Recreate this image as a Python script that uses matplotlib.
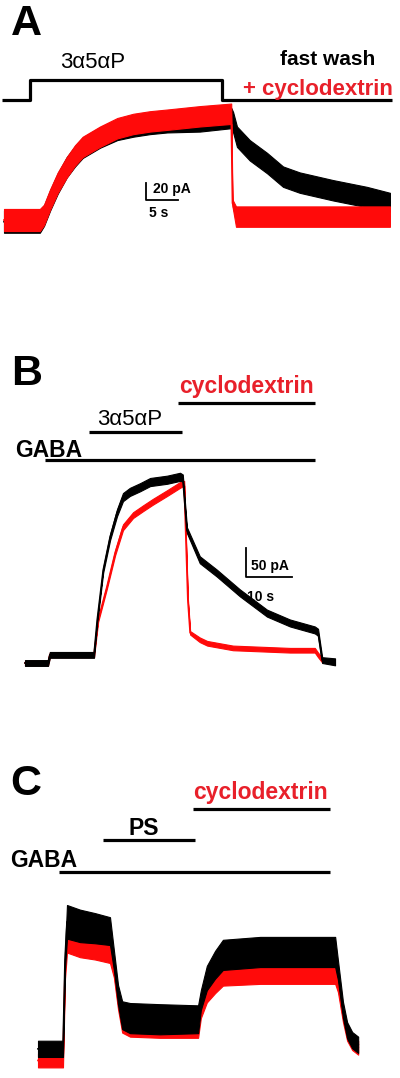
import numpy as np
import matplotlib
matplotlib.use("Agg")
import matplotlib.pyplot as plt

plt.rcParams['font.family'] = ['Liberation Sans', 'DejaVu Sans']

RED = '#e8202a'
TRACE_RED = '#ff0a0a'

# ---------------- Panel A data (time s, current pA) ----------------
a_red_t = [0, 5.6, 6.25, 7.2, 8.4, 9.8, 11.1, 12.3, 15.0, 17.7, 20.2, 22.8, 25.5, 30.6, 35.5, 35.7, 36.25, 46.25, 60.3]
a_red_i = [0, 0, 6, 24, 44, 62, 76, 86, 98, 108, 113, 116, 118, 122, 125, 20, 4, 4, 4]
a_red_n = [13, 13, 12, 12, 12, 12, 12, 12, 12, 12, 12, 12, 12, 12, 12, 4, 12, 12, 12]

a_blk_t = [0, 5.6, 6.25, 7.2, 8.4, 9.8, 11.1, 12.3, 15.0, 17.7, 20.2, 22.8, 25.5, 30.6, 35.5, 35.8, 36.4, 38.4, 41.1, 43.6, 46.2, 51.4, 56.7, 60.3]
a_blk_i = [-2, -2, 5, 23, 43, 62, 75, 85, 97, 106, 110, 113, 115, 117, 120, 115, 98, 82, 67, 51, 44, 35, 27, 21]
a_blk_n = [13, 13, 12, 12, 12, 12, 12, 12, 12, 12, 12, 12, 12, 13, 12, 12, 12, 12, 12, 12, 12, 12, 12, 11]

a_app_t = [-0.3, 4.1, 4.1, 34.1, 34.1, 60.6]      # 3α5αP application (step)
a_app_on = [0, 0, 1, 1, 0, 0]
a_scale = (20, 5)   # pA, s

# ---------------- Panel B data ----------------
b_blk_t = [0, 5.0, 5.4, 15.0, 15.7, 17.0, 18.5, 20.0, 21.3, 22.8, 25.0, 27.2, 30.9, 33.7, 34.3, 35.2, 38.0, 41.7, 46.7, 52.6, 57.6, 63.0, 63.7, 64.6, 67.4]
b_blk_i = [0, 0, 14, 14, 74, 160, 217, 259, 286, 295, 303, 312, 316, 321, 319, 229, 178, 155, 121, 86, 69, 57, 53, 5, 2]
b_blk_n = [5, 5, 5, 5, 4, 4, 5, 6, 7, 7, 7, 7, 7, 7, 6, 5, 6, 6, 6, 6, 6, 6, 6, 5, 6]

b_red_t = [0, 5.0, 5.4, 15.0, 15.9, 17.8, 19.6, 21.3, 23.5, 25.7, 27.8, 30.9, 33.7, 34.6, 35.4, 35.9, 38.0, 39.6, 45.2, 57.6, 63.0, 63.7, 64.6]
b_red_i = [0, 0, 14, 14, 74, 131, 190, 234, 255, 267, 278, 293, 307, 310, 109, 52, 40, 34, 26, 22, 22, 14, 5]
b_red_n = [4, 4, 4, 4, 3, 3, 4, 5, 5, 5, 5, 5, 5, 4, 3, 3, 4, 4, 4, 4, 4, 4, 4]

b_gaba = (4.35, 63.0)
b_steroid = (13.9, 34.1)
b_cd = (33.3, 63.0)
b_scale = (50, 10)

# ---------------- Panel C data ----------------
c_blk_t = [0, 5.43, 5.87, 6.3, 9.13, 12.4, 15.65, 16.5, 17.4, 18.3, 20.0, 26.5, 34.8, 35.4, 36.7, 38.5, 40.2, 48.3, 57.0, 64.6, 65.2, 66.3, 67.2, 68.3, 69.6]
c_blk_i = [2, 2, 155, 221, 214, 210, 205, 155, 95, 60, 55, 53, 53, 86, 124, 147, 164, 169, 169, 169, 138, 69, 34, 17, 9]
c_blk_n = [14, 14, 14, 29, 28, 26, 24, 17, 17, 24, 26, 26, 24, 17, 21, 24, 26, 26, 26, 26, 17, 14, 14, 14, 14]

c_red_t = [0, 5.43, 5.87, 6.3, 9.13, 12.4, 15.65, 16.5, 17.4, 18.3, 20.0, 26.5, 34.8, 35.4, 36.7, 38.5, 40.2, 48.3, 57.0, 64.6, 65.2, 66.3, 67.2, 68.3, 69.6]
c_red_i = [-18, -18, 135, 190, 182, 178, 172, 140, 85, 50, 45, 43, 43, 70, 100, 120, 135, 138, 138, 138, 115, 60, 28, 12, 4]
c_red_n = [12, 12, 12, 22, 22, 22, 22, 15, 15, 20, 22, 22, 22, 15, 18, 22, 24, 24, 24, 24, 15, 12, 12, 12, 12]

c_gaba = (4.57, 63.5)
c_ps = (14.1, 34.1)
c_cd = (33.7, 63.5)

# ---------------- figure ----------------
W, H = 400, 1078
fig = plt.figure(figsize=(W / 100, H / 100), dpi=100)


def panel(row_top, row_bot, x0, y0, px_s, px_pa):
    ax = fig.add_axes([0, 1 - row_bot / H, 1, (row_bot - row_top) / H])
    ax.set_xlim(-x0 / px_s, (W - x0) / px_s)
    ax.set_ylim((y0 - row_bot) / px_pa, (y0 - row_top) / px_pa)
    ax.axis('off')
    return ax


def trace(ax, t, i, n, color, z):
    t = np.asarray(t, float)
    i = np.asarray(i, float)
    n = np.asarray(n, float)
    ax.fill_between(t, i - n, i + n, color=color, lw=0.8, edgecolor=color, zorder=z)
    ax.plot(t, i, color=color, lw=1.2, zorder=z)


bar_kw = dict(color='black', lw=2.3, solid_capstyle='butt')
LBL = 31
TXT = 16.5

# ---- A ----
axA = panel(0, 320, 4, 220, 6.4, 0.85)
trace(axA, a_blk_t, a_blk_i, a_blk_n, 'black', 2)
trace(axA, a_red_t, a_red_i, a_red_n, TRACE_RED, 3)
lo, hi = 141, 165
axA.plot(a_app_t, [lo + (hi - lo) * s for s in a_app_on], **bar_kw)
axA.text(13.8, 179, '3α5αP', fontsize=16, ha='center', va='baseline')
axA.text(50.5, 182, 'fast wash', fontsize=15, fontweight='bold', ha='center', va='baseline')
axA.text(49.0, 147, '+ cyclodextrin', fontsize=16, fontweight='bold', color=RED, ha='center', va='baseline')
sx, sy = 22.2, 23.5
axA.plot([sx, sx, sx + a_scale[1]], [sy + a_scale[0], sy, sy], color='black', lw=1.3)
axA.text(23.3, 36, f'{a_scale[0]} pA', fontsize=10, fontweight='bold', ha='left', va='center')
axA.text(22.6, 8, f'{a_scale[1]} s', fontsize=10, fontweight='bold', ha='left', va='center')
fig.text(11 / W, 1 - 35 / H, 'A', fontsize=LBL, fontweight='bold', va='baseline')

# ---- B ----
axB = panel(340, 700, 25, 663, 4.6, 0.58)
trace(axB, b_red_t, b_red_i, b_red_n, TRACE_RED, 2)
trace(axB, b_blk_t, b_blk_i, b_blk_n, 'black', 3)
axB.plot(b_gaba, [350, 350], **bar_kw)
axB.plot(b_steroid, [398, 398], **bar_kw)
axB.plot(b_cd, [448, 448], **bar_kw)
axB.text(-2.2, 355, 'GABA', fontsize=TXT, fontweight='bold', ha='left', va='baseline')
axB.text(22.7, 410, '3α5αP', fontsize=16, ha='center', va='baseline')
axB.text(48.2, 466, 'cyclodextrin', fontsize=TXT, fontweight='bold', color=RED, ha='center', va='baseline')
sx, sy = 48.0, 148
axB.plot([sx, sx, sx + b_scale[1]], [sy + b_scale[0], sy, sy], color='black', lw=1.3)
axB.text(49.1, 167, f'{b_scale[0]} pA', fontsize=10, fontweight='bold', ha='left', va='center')
axB.text(48.3, 114, f'{b_scale[1]} s', fontsize=10, fontweight='bold', ha='left', va='center')
fig.text(11 / W, 1 - 385 / H, 'B', fontsize=LBL, fontweight='bold', va='baseline')

# ---- C ----
axC = panel(740, 1078, 38, 1050, 4.6, 0.58)
trace(axC, c_red_t, c_red_i, c_red_n, TRACE_RED, 2)
trace(axC, c_blk_t, c_blk_i, c_blk_n, 'black', 3)
axC.plot(c_gaba, [307, 307], **bar_kw)
axC.plot(c_ps, [362, 362], **bar_kw)
axC.plot(c_cd, [416, 416], **bar_kw)
axC.text(-6.1, 315, 'GABA', fontsize=TXT, fontweight='bold', ha='left', va='baseline')
axC.text(23.0, 371, 'PS', fontsize=TXT, fontweight='bold', ha='center', va='baseline')
axC.text(48.3, 433, 'cyclodextrin', fontsize=TXT, fontweight='bold', color=RED, ha='center', va='baseline')
fig.text(10 / W, 1 - 795 / H, 'C', fontsize=LBL, fontweight='bold', va='baseline')

fig.savefig('out.png', dpi=100, facecolor='white')
